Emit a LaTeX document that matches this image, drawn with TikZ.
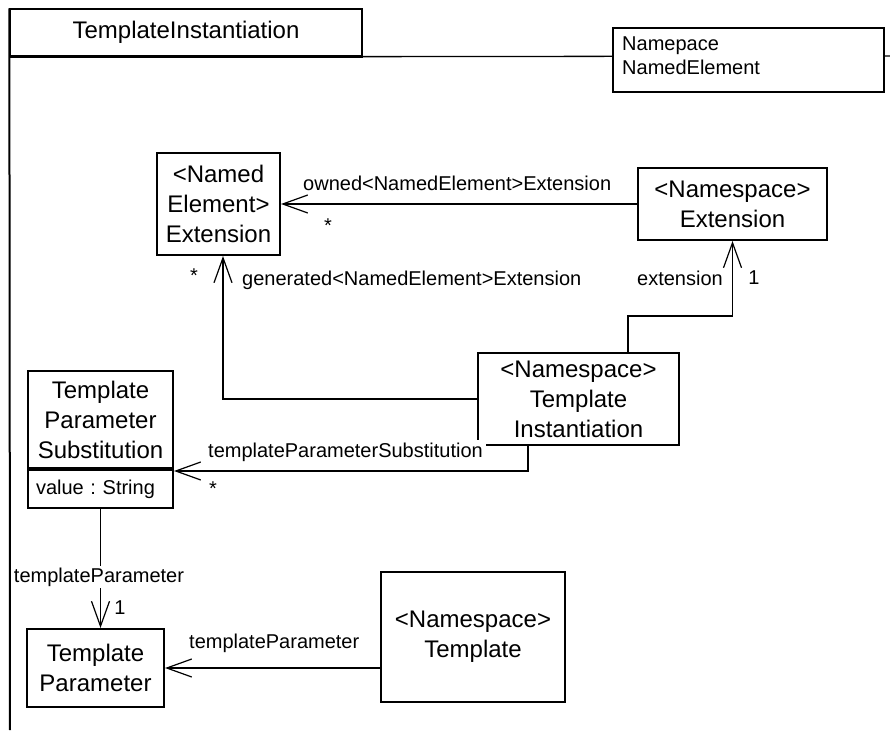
\documentclass[tikz,border=0pt]{standalone}
\usepackage{fontspec}
\setmainfont{Liberation Sans}
\usetikzlibrary{arrows.meta}
\frenchspacing
\begin{document}
\begin{tikzpicture}[x=1pt,y=-1pt,
  cls/.style={draw, line width=2pt, fill=white, align=center, inner sep=0pt, font=\fontsize{24}{30}\selectfont},
  lbl/.style={inner sep=0pt, font=\fontsize{20}{24}\selectfont},
  conn/.style={line width=1.2pt},
  barb/.style={-{Straight Barb[length=25pt,width=18pt,line width=1.2pt]}}
]
\useasboundingbox (0,0) rectangle (890,730);
% package frame
\coordinate (fb) at (10,730);
\coordinate (fr) at (890,56);
\node[draw, line width=1.3pt, minimum width=352pt, minimum height=47pt, inner sep=0pt,
      font=\fontsize{24}{30}\selectfont] (tab) at (186,32.5) {TemplateInstantiation};
\draw[line width=2pt] (tab.south west) -- (tab.south east);
\draw[line width=2pt] (tab.north west) -- (fb);
\draw[line width=1.3pt] (tab.south east) -- (fr);
% imported elements
\node[draw, line width=1.6pt, fill=white, minimum width=271pt, minimum height=64pt, inner sep=0pt] (imp) at (748.5,60) {};
\node[lbl, anchor=west, align=left] (imptext) at (622,56) {Namepace\\NamedElement};
% classes
\node[cls, minimum width=123pt, minimum height=102pt] (nee) at (218.5,204) {<Named\\Element>\\Extension};
\node[cls, minimum width=189pt, minimum height=72pt] (nse) at (732.5,204) {<Namespace>\\Extension};
\node[cls, minimum width=201pt, minimum height=92pt] (ti) at (578.5,399) {<Namespace>\\Template\\Instantiation};
\node[cls, minimum width=145pt, minimum height=97pt] (tps) at (100.5,419.5) {Template\\Parameter\\Substitution};
\node[draw, line width=2pt, fill=white, anchor=north, text width=129pt, inner xsep=8pt, inner ysep=0pt,
      minimum height=38pt, align=left, font=\fontsize{20}{24}\selectfont] (tpsattr) at (tps.south) {value : String};
\node[cls, minimum width=137pt, minimum height=78pt] (tp) at (95.5,668) {Template\\Parameter};
\node[cls, minimum width=184pt, minimum height=130pt] (nst) at (473,637) {<Namespace>\\Template};
% connectors
\draw[conn,barb] (nse.west) -- (nee.east);
\draw[conn,barb] (ti.west) -| ([xshift=4.5pt]nee.south);
\draw[conn,barb] ([xshift=49.5pt]ti.north) -- ++(0,-36) -| (nse.south);
\draw[conn,barb] ([xshift=-50.5pt]ti.south) |- ([yshift=-2pt]tps.south east);
\draw[conn,barb] (tpsattr.south) -- (tpsattr.south |- tp.north);
\draw[conn,barb] (nst.west |- tp.east) -- (tp.east);
% labels
\node[lbl, anchor=west] (lowned) at (303,183) {owned<NamedElement>Extension};
\node[lbl] (sowned) at (328,226) {*};
\node[lbl, anchor=west] (lgen) at (242,280) {generated<NamedElement>Extension};
\node[lbl] (sgen) at (194,276) {*};
\node[lbl, anchor=east] (lext) at (723,278) {extension};
\node[lbl] (oext) at (754,278) {1};
\node[lbl, anchor=west, fill=white, inner sep=3pt] (ltps) at (205,452) {templateParameterSubstitution};
\node[lbl] (stps) at (213,489) {*};
\node[lbl, fill=white, inner sep=2pt] (ltpv) at (99,577) {templateParameter};
\node[lbl] (otpv) at (120,608) {1};
\node[lbl, anchor=west] (ltph) at (189,643) {templateParameter};
\end{tikzpicture}
\end{document}
